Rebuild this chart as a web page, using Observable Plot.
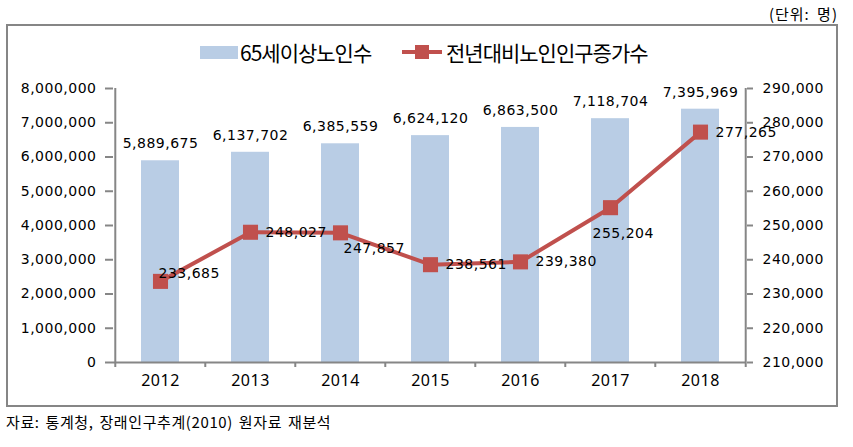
<!DOCTYPE html>
<html>
<head>
<meta charset="utf-8">
<script src="https://cdn.jsdelivr.net/npm/d3@7"></script>
<script src="https://cdn.jsdelivr.net/npm/@observablehq/plot@0.6"></script>
<style>
  body { margin: 0; background: #fff; }
  #wrap { position: relative; width: 853px; height: 447px; overflow: hidden; font-family: "Noto Sans CJK KR", sans-serif; color: #000; }
  #unit { position: absolute; top: 5px; right: 15px; font-size: 15px; line-height: 18px; letter-spacing: 1px; word-spacing: 3px; white-space: nowrap; }
  #box { position: absolute; left: 6px; top: 24px; width: 832px; height: 383px; box-sizing: border-box; border: 2px solid #868686; }
  .leg { position: absolute; top: 40px; height: 24px; display: flex; align-items: center; font-size: 21px; letter-spacing: -1px; line-height: 24px; white-space: nowrap; }
  .sw { display: inline-block; width: 38px; height: 13px; background: #b9cde5; margin-right: 2px; }
  #chart { position: absolute; left: 0; top: 60px; }
  #caption { position: absolute; left: 6px; top: 413px; font-size: 15px; line-height: 18px; letter-spacing: 0.6px; word-spacing: 2px; white-space: nowrap; }
</style>
</head>
<body>
<div id="wrap">
  <div id="unit">(단위: 명)</div>
  <div id="box"></div>
  <div class="leg" id="leg1" style="left:200px"><span class="sw"></span><span id="leg1t"></span></div>
  <div class="leg" id="leg2" style="left:402px"><svg width="42" height="16" style="margin-right:2px"><line x1="0" y1="8" x2="40" y2="8" stroke="#c0504d" stroke-width="4"/><rect x="13" y="1" width="14" height="14" fill="#c0504d"/></svg><span id="leg2t"></span></div>
  <div id="chart"></div>
  <div id="caption">자료: 통계청, 장래인구추계(2010) 원자료 재분석</div>
</div>
<script>
const years = ["2012", "2013", "2014", "2015", "2016", "2017", "2018"];
const elderly = [5889675, 6137702, 6385559, 6624120, 6863500, 7118704, 7395969];
const increase = [233685, 248027, 247857, 238561, 239380, 255204, 277265];
const leftTicks = [0, 1000000, 2000000, 3000000, 4000000, 5000000, 6000000, 7000000, 8000000];
const rightTicks = [210000, 220000, 230000, 240000, 250000, 260000, 270000, 280000, 290000];
const seriesNames = ["65세이상노인수", "전년대비노인인구증가수"];

document.getElementById("leg1t").textContent = seriesNames[0];
document.getElementById("leg2t").textContent = seriesNames[1];

const fmt = d3.format(",");
const lMin = leftTicks[0], lMax = leftTicks[leftTicks.length - 1];
const rMin = rightTicks[0], rMax = rightTicks[rightTicks.length - 1];
const toLeft = v => lMin + (v - rMin) * (lMax - lMin) / (rMax - rMin);
const toRight = v => Math.round(rMin + (v - lMin) * (rMax - rMin) / (lMax - lMin));

const bars = years.map((y, i) => ({year: y, value: elderly[i]}));
const pts = years.map((y, i) => ({year: y, value: increase[i], yl: toLeft(increase[i])}));

const W = 853, H = 340, mL = 113, mR = 107, mT = 28, mB = 38;
const step = (W - mL - mR) / years.length;
const axisColor = "#868686";
const numFont = "DejaVu Sans";
const labelOffset = {"2012": [-2, -8], "2014": [3, 16], "2017": [-18, 26]};

const lineLabels = pts.map(d => {
  const [dx, dy] = labelOffset[d.year] || [15, 0];
  return Plot.text([d], {x: "year", y: "yl", text: d => fmt(d.value), dx, dy, textAnchor: "start",
    fontFamily: numFont, fontSize: 14, fill: "#000"});
});

const chart = Plot.plot({
  width: W, height: H,
  marginLeft: mL, marginRight: mR, marginTop: mT, marginBottom: mB,
  style: {fontFamily: numFont, fontSize: "14px", letterSpacing: "0.5px", background: "transparent", overflow: "visible"},
  x: {type: "band", domain: years, paddingInner: 0.58, paddingOuter: 0.29},
  y: {domain: [lMin, lMax]},
  marks: [
    Plot.barY(bars, {x: "year", y: "value", fill: "#b9cde5"}),
    Plot.text(bars, {x: "year", y: "value", text: d => fmt(d.value), dy: -17, fontFamily: numFont, fontSize: 14, fill: "#000"}),
    Plot.ruleY([lMin], {stroke: axisColor, strokeWidth: 2}),
    Plot.ruleX([years[0]], {dx: -step / 2, stroke: axisColor, strokeWidth: 2}),
    Plot.ruleX([years[years.length - 1]], {dx: step / 2, stroke: axisColor, strokeWidth: 2}),
    Plot.axisY({anchor: "left", ticks: leftTicks, tickFormat: fmt, tickSize: 8, tickPadding: 9,
      stroke: axisColor, strokeWidth: 2, fill: "#000", label: null, fontSize: 14, fontFamily: numFont}),
    Plot.axisY({anchor: "right", ticks: leftTicks, tickFormat: d => fmt(toRight(d)), tickSize: 6, tickPadding: 10,
      stroke: axisColor, strokeWidth: 2, fill: "#000", label: null, fontSize: 14, fontFamily: numFont}),
    Plot.axisX({tickSize: 0, tickPadding: 12, label: null, fill: "#000", fontFamily: "Noto Sans", fontSize: 16}),
    Plot.axisX({ticks: years, tickSize: 5, tickPadding: 0, tickFormat: () => "", dx: -step / 2, label: null,
      stroke: axisColor, strokeWidth: 2}),
    Plot.axisX({ticks: [years[years.length - 1]], tickSize: 5, tickPadding: 0, tickFormat: () => "", dx: step / 2, label: null,
      stroke: axisColor, strokeWidth: 2}),
    Plot.line(pts, {x: "year", y: "yl", stroke: "#c0504d", strokeWidth: 4}),
    Plot.dot(pts, {x: "year", y: "yl", symbol: "square", r: 8.5, fill: "#c0504d", stroke: "none"}),
    ...lineLabels
  ]
});
document.getElementById("chart").appendChild(chart);
</script>
</body>
</html>
